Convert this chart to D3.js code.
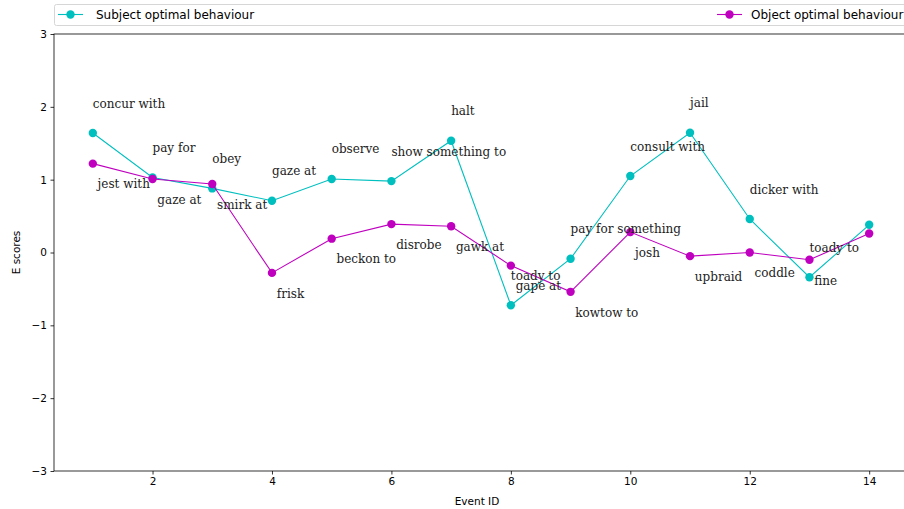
<!DOCTYPE html>
<html><head><meta charset="utf-8">
<script src="https://cdn.jsdelivr.net/npm/d3@7"></script>
<style>body{margin:0;background:#fff}svg{display:block}</style>
</head><body>
<svg id="c" width="904" height="509"></svg>
<script>
const eventIds = [1,2,3,4,5,6,7,8,9,10,11,12,13,14];
const subjectValues = [1.64,1.03,0.88,0.71,1.01,0.98,1.535,-0.725,-0.085,1.05,1.645,0.46,-0.34,0.38];
const objectValues  = [1.22,1.01,0.94,-0.28,0.19,0.39,0.36,-0.18,-0.54,0.28,-0.05,0.00,-0.10,0.26];
const subjectLabels = ["concur with","pay for","obey","gaze at","observe","show something to","halt","toady to","pay for something","consult with","jail","dicker with","toady to"];
const objectLabels  = ["jest with","gaze at","smirk at","frisk","beckon to","disrobe","gawk at","gape at","kowtow to","josh","upbraid","coddle","fine"];
const xTicks = [2,4,6,8,10,12,14];
const yTicks = [-3,-2,-1,0,1,2,3];
const seriesNames = ["Subject optimal behaviour","Object optimal behaviour"];

const svg = d3.select("#c");
const L = 54, R = 908, T = 34, B = 471;
const x = d3.scaleLinear().domain([0.35,14.65]).range([L,R]);
const y = d3.scaleLinear().domain([-3,3]).range([B,T]);
const cyan = "#00bfbf", mag = "#bf00bf";
const sans = "'DejaVu Sans', sans-serif";

// axes
const xa = svg.append("g").attr("transform",`translate(0,${B})`)
  .call(d3.axisBottom(x).tickValues(xTicks).tickSize(3.5).tickPadding(3.5).tickFormat(d3.format("d")));
const ya = svg.append("g").attr("transform",`translate(${L},0)`)
  .call(d3.axisLeft(y).tickValues(yTicks).tickSize(3.5).tickPadding(3.5).tickFormat(d => d < 0 ? "\u2212" + Math.abs(d) : d));
[xa,ya].forEach(a => {
  a.selectAll("text").attr("font-family",sans).attr("font-size","10.5px").attr("fill","#000");
  a.selectAll("line").attr("stroke","#000").attr("stroke-width",0.8);
  a.select(".domain").remove();
});
svg.append("rect").attr("x",L).attr("y",T).attr("width",R-L).attr("height",B-T)
  .attr("fill","none").attr("stroke","#000").attr("stroke-width",0.8);

svg.append("text").attr("x",477).attr("y",505).attr("text-anchor","middle")
  .attr("font-family",sans).attr("font-size","10.5px").text("Event ID");
svg.append("text").attr("transform",`translate(16,${(T+B)/2}) rotate(-90)`).attr("text-anchor","middle")
  .attr("dominant-baseline","central")
  .attr("font-family",sans).attr("font-size","10.5px").text("E scores");

const line = d3.line().x((d,i)=>x(eventIds[i])).y(d=>y(d));
function drawSeries(vals,color){
  svg.append("path").datum(vals).attr("d",line).attr("fill","none").attr("stroke",color).attr("stroke-width",1.1);
  svg.selectAll(null).data(vals).enter().append("circle")
    .attr("cx",(d,i)=>x(eventIds[i])).attr("cy",d=>y(d)).attr("r",4.2).attr("fill",color);
}
drawSeries(subjectValues,cyan);
drawSeries(objectValues,mag);

const serif = "'DejaVu Serif', serif";
svg.selectAll(null).data(subjectLabels).enter().append("text")
  .attr("x",(d,i)=>x(eventIds[i])).attr("y",(d,i)=>y(subjectValues[i]+0.35))
  .attr("font-family",serif).attr("font-size","12px").attr("fill","#222").text(d=>d);
svg.selectAll(null).data(objectLabels).enter().append("text")
  .attr("x",(d,i)=>x(eventIds[i]+0.08)).attr("y",(d,i)=>y(objectValues[i]-0.34))
  .attr("font-family",serif).attr("font-size","12px").attr("fill","#222").text(d=>d);

// legend
const lg = svg.append("g");
lg.append("rect").attr("x",54.5).attr("y",4.5).attr("width",R-54).attr("height",21).attr("rx",2)
  .attr("fill","#fff").attr("stroke","#d6d6d6").attr("stroke-width",1);
const entries = [{name:seriesNames[0],c:cyan,x0:58,tx:96},{name:seriesNames[1],c:mag,x0:717,tx:751}];
entries.forEach(e=>{
  lg.append("line").attr("x1",e.x0).attr("x2",e.x0+25).attr("y1",14.5).attr("y2",14.5).attr("stroke",e.c).attr("stroke-width",1.1);
  lg.append("circle").attr("cx",e.x0+12.5).attr("cy",14.5).attr("r",4.2).attr("fill",e.c);
  lg.append("text").attr("x",e.tx).attr("y",18.8).attr("font-family",sans).attr("font-size","12px").text(e.name);
});
</script>
</body></html>
